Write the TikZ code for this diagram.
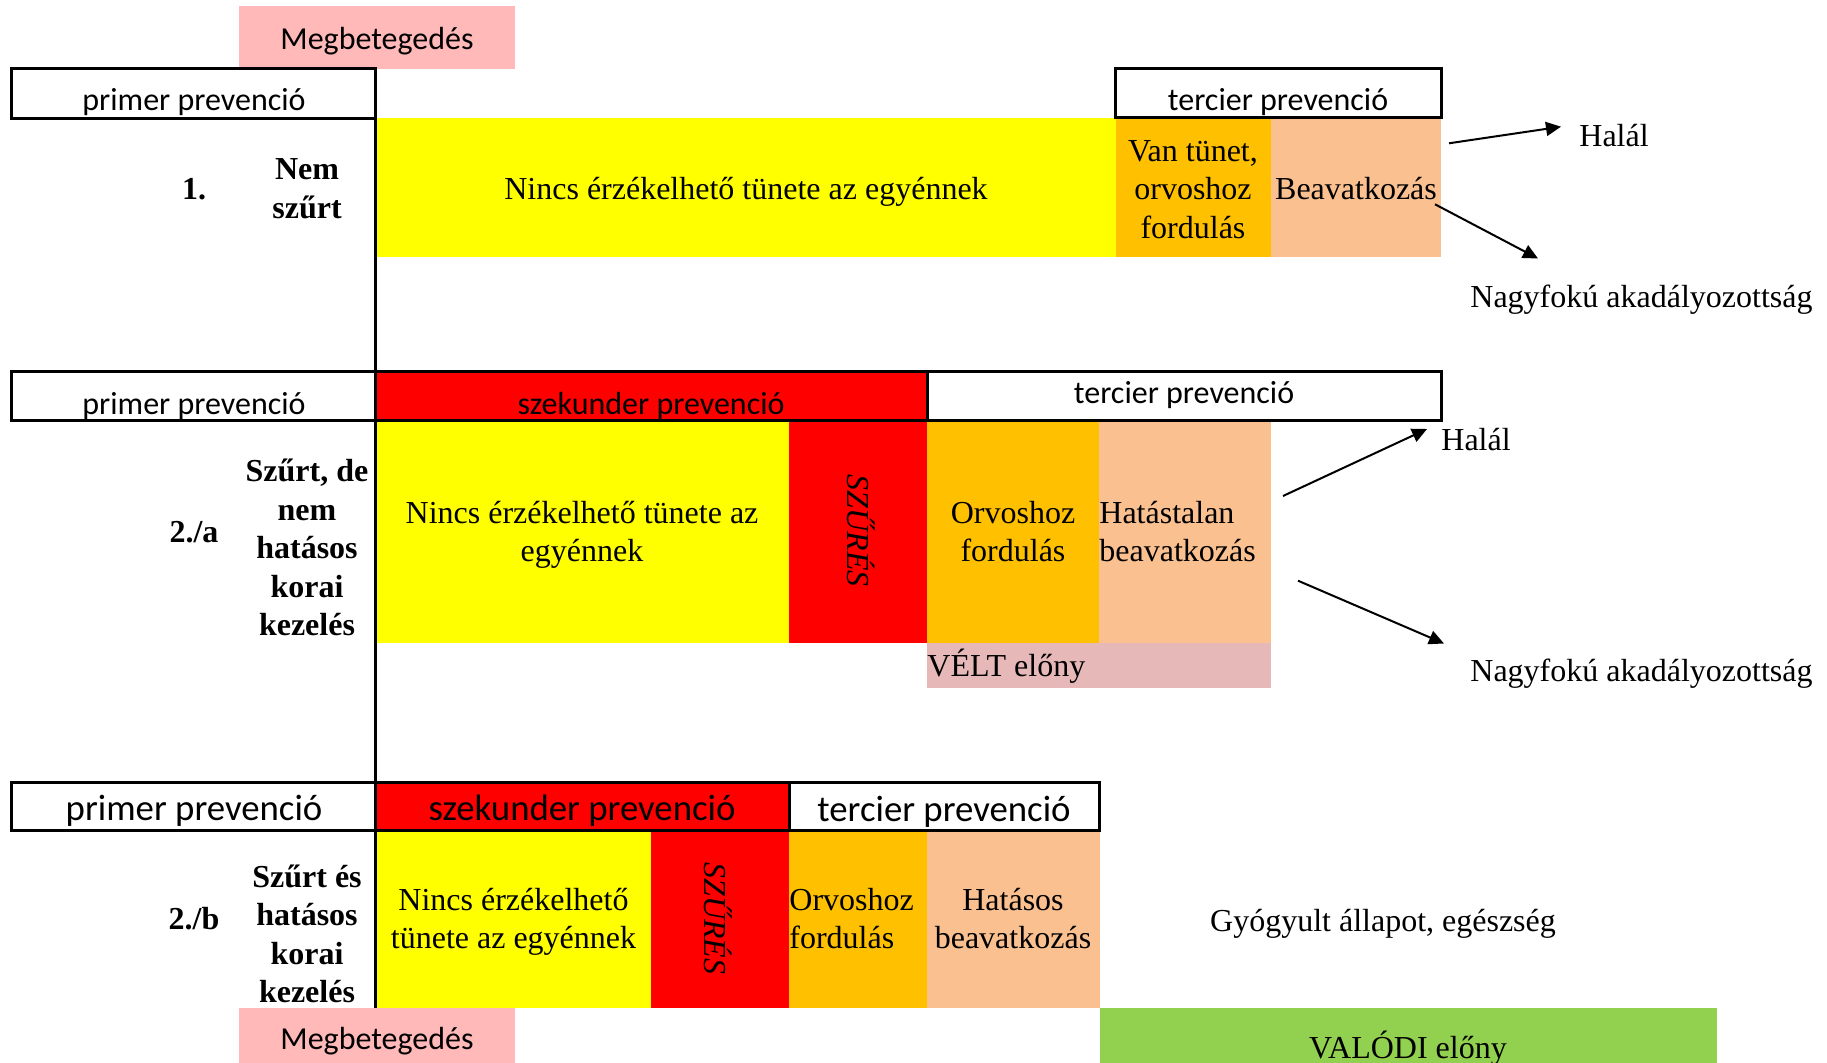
\documentclass[tikz,border=0pt]{standalone}
\usepackage{fontspec}
\setmainfont{Liberation Serif}
\newfontfamily\calfont{Carlito}
\usetikzlibrary{arrows.meta,fit}
\definecolor{cyel}{HTML}{FFFF00}
\definecolor{cred}{HTML}{FF0000}
\definecolor{corg}{HTML}{FFC000}
\definecolor{cpch}{HTML}{FAC090}
\definecolor{cpink}{HTML}{FFB9B9}
\definecolor{cvelt}{HTML}{E6B8B7}
\definecolor{cgrn}{HTML}{92D050}
\begin{document}
\begin{tikzpicture}[x=0.5pt,y=-0.5pt,
  cellbox/.style={inner sep=0pt, outer sep=0pt, draw=none},
  hdr/.style={inner sep=0pt, outer sep=0pt, draw=black, line width=1.5pt},
  tx/.style={inner sep=0pt, anchor=base, yshift=-1pt, font=\fontsize{16}{19}\selectfont},
  txw/.style={tx, anchor=base west},
  bd/.style={inner sep=0pt, anchor=base, yshift=-1pt, font=\fontsize{16}{19}\selectfont\bfseries},
  vert/.style={inner sep=0pt, anchor=center, rotate=-90, font=\fontsize{16}{19}\selectfont\itshape},
  cal/.style={inner sep=0pt, anchor=base, yshift=-1.2pt, font=\calfont\fontsize{16}{19}\selectfont},
  calbig/.style={inner sep=0pt, anchor=base, yshift=-0.8pt, font=\calfont\fontsize{18.4}{22}\selectfont},
  arr/.style={-{Triangle[length=7.5pt,width=7pt]}, line width=1pt},
  vline/.style={line width=1.5pt}
]
\useasboundingbox (0,0) rectangle (1827,1063);

% ---------- fills ----------
\node[cellbox, fill=cpink, fit={(239,6)(515,69)}] (megtopbox) {};
% row 1
\node[cellbox, fill=cyel, fit={(376,118)(1116,257)}] (y1box) {};
\node[cellbox, fill=corg, fit={(1116,118)(1271,257)}] (o1box) {};
\node[cellbox, fill=cpch, fit={(1271,118)(1441,257)}] (b1box) {};
% row 2
\node[cellbox, fill=cyel, fit={(376,420.5)(789,642.7)}] (y2box) {};
\node[cellbox, fill=cred, fit={(789,420.5)(927,642.7)}] (sz2box) {};
\node[cellbox, fill=corg, fit={(927,420.5)(1099,642.7)}] (o2box) {};
\node[cellbox, fill=cpch, fit={(1099,420.5)(1271,642.7)}] (h2box) {};
\node[cellbox, fill=cvelt, fit={(927,642.7)(1271,688.3)}] (veltbox) {};
% row 3
\node[cellbox, fill=cyel, fit={(376,830)(651.4,1007.7)}] (y3box) {};
\node[cellbox, fill=cred, fit={(651.4,830)(789,1007.7)}] (sz3box) {};
\node[cellbox, fill=corg, fit={(789,830)(927,1007.7)}] (o3box) {};
\node[cellbox, fill=cpch, fit={(927,830)(1100,1007.7)}] (hs3box) {};
\node[cellbox, fill=cpink, fit={(239,1007.7)(515,1063)}] (megbotbox) {};
\node[cellbox, fill=cgrn, fit={(1100,1007.7)(1717,1063)}] (valbox) {};

% ---------- header boxes ----------
\node[hdr, fit={(11.7,68.3)(375.6,118.3)}] (p1box) {};
\node[hdr, fit={(1115.8,68.3)(1441,118)}] (t1box) {};
\node[hdr, fit={(11.7,372)(375.6,420.5)}] (p2box) {};
\node[hdr, fill=cred, fit={(375.6,372)(927,420.5)}] (s2box) {};
\node[hdr, fit={(927,372)(1441,420.5)}] (t2box) {};
\node[hdr, fit={(11.7,782.7)(375.6,830)}] (p3box) {};
\node[hdr, fill=cred, fit={(375.6,782.7)(789,830)}] (s3box) {};
\node[hdr, fit={(789,782.7)(1099.8,830)}] (t3box) {};

% vertical line
\coordinate (vtop) at (375.8,68);
\coordinate (vbot) at (375.8,1007.7);
\draw[vline] (vtop) -- (vbot);

% ---------- texts ----------
\node[cal] (megtop) at (377,46.7) {Megbetegedés};
% row 1
\node[cal] (p1) at (194,108.3) {primer prevenció};
\node[cal] (t1) at (1278,108.3) {tercier prevenció};
\node[bd] (n1) at (194,197.3) {1.};
\node[bd] (l1a) at (307,177.7) {Nem};
\node[bd] (l1b) at (307,216.7) {szűrt};
\node[tx] (y1) at (746,198) {Nincs érzékelhető tünete az egyénnek};
\node[tx] (o1a) at (1193,159.3) {Van tünet,};
\node[tx] (o1b) at (1193,197.8) {orvoshoz};
\node[tx] (o1c) at (1193,236.3) {fordulás};
\node[tx] (b1) at (1356,197.8) {Beavatkozás};
\node[txw] (h1) at (1579,145) {Halál};
\node[txw] (d1) at (1470,306) {Nagyfokú akadályozottság};
% row 2
\node[cal] (p2) at (194,411.7) {primer prevenció};
\node[cal] (s2) at (651,411.7) {szekunder prevenció};
\node[cal] (t2) at (1184,401) {tercier prevenció};
\node[bd] (n2) at (194,541) {2./a};
\node[bd] (l2a) at (307,480) {Szűrt, de};
\node[bd] (l2b) at (307,518.5) {nem};
\node[bd] (l2c) at (307,557) {hatásos};
\node[bd] (l2d) at (307,595.5) {korai};
\node[bd] (l2e) at (307,634) {kezelés};
\node[tx] (y2a) at (582,521.7) {Nincs érzékelhető tünete az};
\node[tx] (y2b) at (582,560) {egyénnek};
\node[vert] (sz2) at (861,531) {SZŰRÉS};
\node[tx] (o2a) at (1013,521.7) {Orvoshoz};
\node[tx] (o2b) at (1013,560) {fordulás};
\node[txw] (h2a) at (1099,521.7) {Hatástalan};
\node[txw] (h2b) at (1099,560) {beavatkozás};
\node[txw] (v2) at (927,675) {VÉLT előny};
\node[txw] (h2) at (1441,448.3) {Halál};
\node[txw] (d2) at (1470,680) {Nagyfokú akadályozottság};
% row 3
\node[calbig] (p3) at (194,819.3) {primer prevenció};
\node[calbig] (s3) at (582,819.3) {szekunder prevenció};
\node[calbig] (t3) at (944,820) {tercier prevenció};
\node[bd] (n3) at (194,927.7) {2./b};
\node[bd] (l3a) at (307,885) {Szűrt és};
\node[bd] (l3b) at (307,923.5) {hatásos};
\node[bd] (l3c) at (307,962) {korai};
\node[bd] (l3d) at (307,1000) {kezelés};
\node[tx] (y3a) at (513.5,908.3) {Nincs érzékelhető};
\node[tx] (y3b) at (513.5,946.7) {tünete az egyénnek};
\node[vert] (sz3) at (718,918.5) {SZŰRÉS};
\node[txw] (o3a) at (789,908.3) {Orvoshoz};
\node[txw] (o3b) at (789,946.7) {fordulás};
\node[tx] (hs3a) at (1013,908.3) {Hatásos};
\node[tx] (hs3b) at (1013,946.7) {beavatkozás};
\node[tx] (g3) at (1383,929.3) {Gyógyult állapot, egészség};
\node[cal] (megbot) at (377,1046.7) {Megbetegedés};
\node[tx] (val) at (1408,1056.7) {VALÓDI előny};

% ---------- arrows ----------
\coordinate (a1s) at (1449,143.3);
\coordinate (a1e) at (1561,126.7);
\coordinate (a2s) at (1435,204.3);
\coordinate (a2e) at (1538,258.5);
\coordinate (a3s) at (1283,496);
\coordinate (a3e) at (1427,429);
\coordinate (a4s) at (1298,580.7);
\coordinate (a4e) at (1444,643.5);
\draw[arr] (a1s) -- (a1e);
\draw[arr] (a2s) -- (a2e);
\draw[arr] (a3s) -- (a3e);
\draw[arr] (a4s) -- (a4e);
\end{tikzpicture}
\end{document}
